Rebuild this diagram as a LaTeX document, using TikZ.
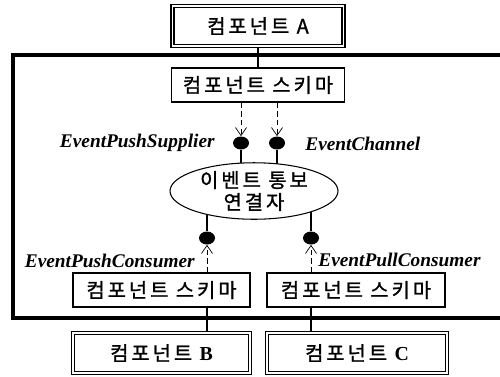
\documentclass[tikz,border=0pt]{standalone}
\usepackage{fontspec}
\setmainfont{Liberation Serif}
\newfontfamily\krfont[LetterSpace=15, FakeBold=1.2]{Noto Sans CJK KR}
\usetikzlibrary{arrows.meta,shapes.geometric}

\tikzset{
  comp/.style={draw, double, double distance=0.7pt, line width=0.8pt, minimum height=0.8cm, inner sep=0pt, font=\krfont\fontsize{11.3}{13}\selectfont},
  skima/.style={draw, line width=0.6pt, minimum height=0.68cm, inner sep=0pt, font=\krfont\fontsize{11.3}{13}\selectfont},
  lolli/.style={ellipse, fill=black, minimum width=0.32cm, minimum height=0.26cm, inner sep=0pt},
  ifc/.style={font=\bfseries\itshape\fontsize{11}{13}\selectfont, inner sep=0pt},
  dotarrow/.style={densely dashed, line width=0.4pt, -{Straight Barb[length=1.6mm, width=2.2mm]}},
  wire/.style={line width=0.9pt},
}

\begin{document}
\begin{tikzpicture}
\useasboundingbox (0,0) rectangle (10,7.52);
% outer frame
\draw[line width=2pt] (0.26,1.16) rectangle (10.4,6.42);
\node[comp, minimum width=3.42cm] (a) at (5.16,7.0) {컴포넌트 A};
\node[skima, minimum width=3.46cm] (sch) at (5.16,5.82) {컴포넌트 스키마};
\node[lolli] (sup) at (4.82,4.66) {};
\node[lolli] (chn) at (5.54,4.66) {};
\node[lolli] (pushc) at (4.14,2.76) {};
\node[lolli] (pullc) at (6.22,2.76) {};
\coordinate (evc) at (5.08,3.7);
\draw[wire] (sup) -- (sup |- evc);
\draw[wire] (chn) -- (chn |- evc);
\draw[wire] (pushc) -- (pushc |- evc);
\draw[wire] (pullc) -- (pullc |- evc);
\node[ellipse, draw, fill=white, line width=0.6pt, minimum width=3.36cm, minimum height=1.12cm, inner sep=0pt, align=center, font=\krfont\fontsize{11.3}{12.5}\selectfont] (ev) at (evc) {이벤트 통보\\연결자};
\node[skima, minimum width=3.54cm] (sk1) at (3.23,1.72) {컴포넌트 스키마};
\node[skima, minimum width=3.56cm] (sk2) at (7.12,1.72) {컴포넌트 스키마};
\node[comp, minimum width=3.54cm] (b) at (3.23,0.46) {컴포넌트 {\rmfamily\bfseries B}};
\node[comp, minimum width=3.6cm] (c) at (7.14,0.46) {컴포넌트 {\rmfamily\bfseries C}};
\node[ifc, anchor=east] (lsup) at (4.3,4.66) {EventPushSupplier};
\node[ifc, anchor=west] (lchn) at (6.1,4.64) {EventChannel};
\node[ifc, anchor=east] (lpush) at (3.9,2.3) {EventPushConsumer};
\node[ifc, anchor=west] (lpull) at (6.36,2.32) {EventPullConsumer};
\draw[wire] (a.south) -- (sch.north);
\draw[dotarrow] (sch.south -| sup) -- (sup);
\draw[dotarrow] (sch.south -| chn) -- (chn);
\draw[dotarrow] (sk1.north -| pushc) -- (pushc);
\draw[dotarrow] (sk2.north -| pullc) -- (pullc);
\draw[wire] (sk1.south -| pushc) -- (b.north -| pushc);
\draw[wire] (sk2.south -| pullc) -- (c.north -| pullc);
\end{tikzpicture}
\end{document}
